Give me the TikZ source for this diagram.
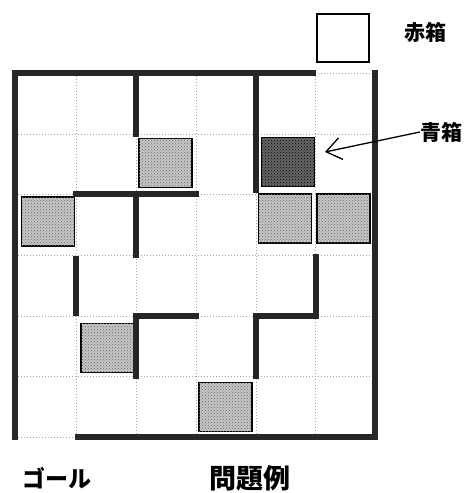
\documentclass[tikz,border=0pt]{standalone}
\usepackage{fontspec}
\newfontfamily\jp{Noto Sans CJK JP}
\usetikzlibrary{arrows.meta,patterns}
\begin{document}
\begin{tikzpicture}[x=1pt,y=-1pt,
  gridline/.style={gray!70, line width=1pt, dotted},
  wall/.style={line width=6pt, black!85, line cap=rect},
  crate/.style={draw=black, line width=1.2pt, fill=gray!45, minimum width=53pt, minimum height=49pt, inner sep=0pt,
    postaction={pattern=crosshatch dots, pattern color=black!60}},
  bluecrate/.style={crate, fill=black!60, postaction={pattern=crosshatch dots, pattern color=black}},
  redcrate/.style={draw=black, line width=1.2pt, fill=white, minimum width=52pt, minimum height=48pt, inner sep=0pt},
  lbl/.style={font=\jp\bfseries\fontsize{21}{21}\selectfont, inner sep=0pt},
  goallbl/.style={font=\jp\bfseries\fontsize{23}{23}\selectfont, inner sep=0pt},
  biglbl/.style={font=\jp\bfseries\fontsize{27}{27}\selectfont, inner sep=0pt}]
\useasboundingbox (0,0) rectangle (467,493);
% dotted grid
\foreach \x in {76,136,196,256,315} \draw[gridline] (\x,73) -- (\x,437);
\foreach \y in {134,194,255,316,376} \draw[gridline] (15,\y) -- (375,\y);
\draw[gridline] (315,73) -- (375,73);
\draw[gridline] (15,437) -- (76,437);
% crates
\node[crate] (c1) at (165.5,163) {};
\node[bluecrate] (blue) at (288,162) {};
\node[crate] (c2) at (48,221.5) {};
\node[crate] (c3) at (285,218.5) {};
\node[crate] (c4) at (343.5,218.5) {};
\node[crate] (c5) at (107.5,348) {};
\node[crate] (c6) at (225.5,407) {};
\node[redcrate] (red) at (343,38) {};
% walls
\draw[wall] (15,437) -- (15,73) -- (313,73);
\draw[wall] (375,73) -- (375,437) -- (78,437);
\draw[wall] (136,73) -- (136,134);
\draw[wall] (256,73) -- (256,190);
\draw[wall] (76,194) -- (196,194);
\draw[wall] (136,194) -- (136,255);
\draw[wall] (76,259) -- (76,313);
\draw[wall] (316,257) -- (316,316) -- (256,316);
\draw[wall] (136,316) -- (196,316);
\draw[wall] (136,316) -- (136,376);
\draw[wall] (256,316) -- (256,376);
% labels
\node[lbl] (redlbl) at (425,32) {赤箱};
\node[lbl] (bluelbl) at (441,132) {青箱};
\node[goallbl] (goal) at (57,478) {ゴール};
\node[biglbl] (title) at (250,478) {問題例};
\coordinate (tip) at (325,152);
\draw[line width=1.3pt, -{Straight Barb[length=15pt,width=22pt,line width=1.3pt]}] (bluelbl.west) -- (tip);
\end{tikzpicture}
\end{document}
